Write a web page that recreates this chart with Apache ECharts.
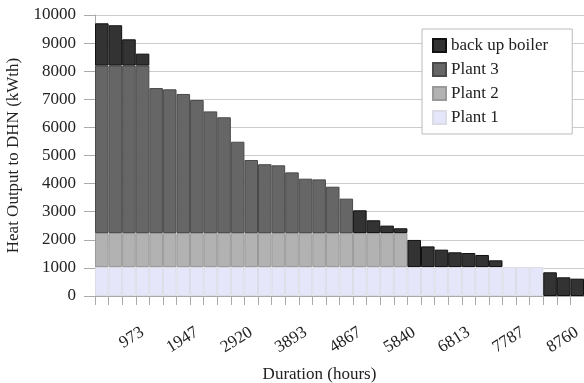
<!DOCTYPE html>
<html>
<head>
<meta charset="utf-8">
<script src="https://cdn.jsdelivr.net/npm/echarts@6/dist/echarts.min.js"></script>
<style>
html,body{margin:0;padding:0;background:#fff;}
#chart{width:584px;height:383px;}
</style>
</head>
<body>
<div id="chart"></div>
<script>
// duration classes (hours), 36 bins of the year
var hours = ['243','487','730','973','1217','1460','1703','1947','2190','2433','2677','2920',
    '3163','3407','3650','3893','4137','4380','4623','4867','5110','5353','5597','5840',
    '6083','6327','6570','6813','7057','7300','7543','7787','8030','8273','8517','8760'];

var plant1 = [1030,1030,1030,1030,1030,1030,1030,1030,1030,1030,1030,1030,
    1030,1030,1030,1030,1030,1030,1030,1030,1030,1030,1030,1030,
    1030,1030,1030,1030,1030,1030,1030,1030,1030,'-','-','-'];
var plant2 = [1210,1210,1210,1210,1210,1210,1210,1210,1210,1210,1210,1210,
    1210,1210,1210,1210,1210,1210,1210,1210,1210,1210,1210,'-',
    '-','-','-','-','-','-','-','-','-','-','-','-'];
var plant3 = [5960,5960,5960,5960,5160,5115,4950,4735,4330,4120,3250,2600,
    2450,2410,2160,1935,1910,1650,1225,'-','-','-','-','-',
    '-','-','-','-','-','-','-','-','-','-','-','-'];
var backup = [1505,1435,935,425,'-','-','-','-','-','-','-','-',
    '-','-','-','-','-','-','-',810,455,265,170,965,
    735,620,525,500,430,240,'-','-','-',843,665,617];

var serif = '"Liberation Serif", "DejaVu Serif", serif';

function drawDurationChart(div_id){
    var myChart = echarts.init(document.getElementById(div_id));
    myChart.setOption({
        animation: false,
        grid: {left: 95, right: 0, top: 15, bottom: 87, outerBoundsMode: 'none', containLabel: false},
        legend: {
            data: ['back up boiler', 'Plant 3', 'Plant 2', 'Plant 1'],
            orient: 'vertical',
            left: 422,
            top: 29,
            padding: [8, 24, 8, 10],
            itemWidth: 13,
            itemHeight: 13,
            itemGap: 7,
            icon: 'rect',
            backgroundColor: '#fff',
            borderColor: '#bbb',
            borderWidth: 1,
            textStyle: {fontFamily: serif, fontSize: 17, color: '#222'}
        },
        xAxis: {
            type: 'category',
            data: hours,
            name: 'Duration (hours)',
            nameLocation: 'middle',
            nameGap: 70,
            nameTextStyle: {fontFamily: serif, fontSize: 17, color: '#222', padding: [0, 40, 0, 0]},
            axisLine: {show: true, lineStyle: {color: '#aaa'}},
            axisTick: {show: true, interval: 0, length: 9, lineStyle: {color: '#aaa'}},
            axisLabel: {
                rotate: 32,
                margin: 35,
                fontFamily: serif,
                fontSize: 17,
                color: '#222',
                interval: function (i) { return i % 4 === 3; }
            }
        },
        yAxis: {
            type: 'value',
            min: 0,
            max: 10000,
            interval: 1000,
            name: 'Heat Output to DHN (kWth)',
            nameLocation: 'middle',
            nameGap: 73,
            nameTextStyle: {fontFamily: serif, fontSize: 17, color: '#222'},
            axisLine: {show: true, lineStyle: {color: '#aaa'}},
            axisTick: {show: true, length: 11, lineStyle: {color: '#aaa'}},
            axisLabel: {
                fontFamily: serif, fontSize: 17, color: '#222', margin: 19,
                formatter: function (v) { return String(v); }
            },
            splitLine: {lineStyle: {color: '#ccc'}}
        },
        series: [
            {
                name: 'Plant 1', type: 'bar', stack: 'heat', barCategoryGap: 0,
                itemStyle: {color: '#e6e6fa', borderColor: '#dcdce6', borderWidth: 1},
                data: plant1
            },
            {
                name: 'Plant 2', type: 'bar', stack: 'heat', barCategoryGap: 0,
                itemStyle: {color: '#b2b2b2', borderColor: '#999', borderWidth: 1},
                data: plant2
            },
            {
                name: 'Plant 3', type: 'bar', stack: 'heat', barCategoryGap: 0,
                itemStyle: {color: '#666666', borderColor: '#4a4a4a', borderWidth: 1},
                data: plant3
            },
            {
                name: 'back up boiler', type: 'bar', stack: 'heat', barCategoryGap: 0,
                itemStyle: {color: '#333333', borderColor: '#111', borderWidth: 1},
                data: backup
            }
        ]
    });
}

drawDurationChart('chart');
</script>
</body>
</html>
